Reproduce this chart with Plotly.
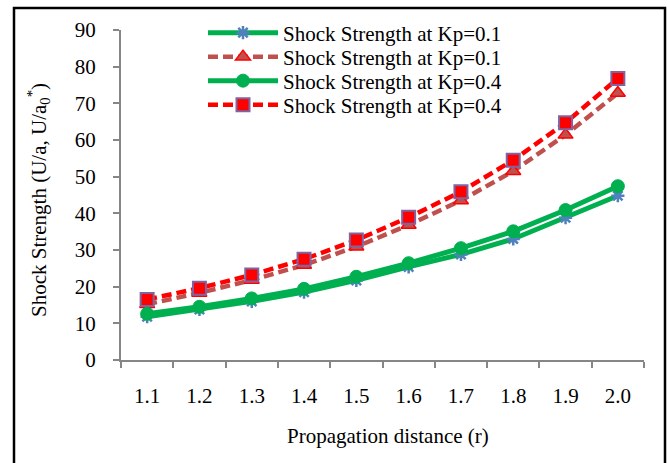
import plotly.graph_objects as go

categories = ["1.1", "1.2", "1.3", "1.4", "1.5", "1.6", "1.7", "1.8", "1.9", "2.0"]
kp01_green = [11.8, 13.8, 16.0, 18.5, 21.7, 25.4, 28.8, 33.0, 38.8, 44.8]
kp01_red = [15.2, 18.3, 21.8, 25.9, 30.9, 36.8, 43.5, 51.5, 61.4, 72.8]
kp04_green = [12.6, 14.5, 16.8, 19.4, 22.7, 26.4, 30.5, 35.1, 40.9, 47.4]
kp04_red = [16.5, 19.6, 23.2, 27.5, 32.7, 38.9, 45.9, 54.5, 64.7, 76.8]
y_ticks = [0, 10, 20, 30, 40, 50, 60, 70, 80, 90]
legend_name_01 = "Shock Strength at Kp=0.1"
legend_name_04 = "Shock Strength at Kp=0.4"

FONT = "Liberation Serif, Times New Roman, serif"
FS = 21

fig = go.Figure()
fig.add_trace(go.Scatter(
    x=categories, y=kp01_green, name=legend_name_01, mode="lines+markers",
    legend="legend",
    line=dict(color="#00B050", width=5),
    marker=dict(symbol="asterisk-open", size=11, color="#4F81BD",
                line=dict(color="#4F81BD", width=2.5)),
))
fig.add_trace(go.Scatter(
    x=categories, y=kp01_red, name=legend_name_01, mode="lines+markers",
    legend="legend2",
    line=dict(color="#C0504D", width=4.5, dash="10px,5px"),
    marker=dict(symbol="triangle-up", size=13, color="#C0504D",
                line=dict(color="#FF0000", width=1.5)),
))
fig.add_trace(go.Scatter(
    x=categories, y=kp04_green, name=legend_name_04, mode="lines+markers",
    legend="legend3",
    line=dict(color="#00B050", width=5),
    marker=dict(symbol="circle", size=13, color="#00B050",
                line=dict(color="#00B050", width=1)),
))
fig.add_trace(go.Scatter(
    x=categories, y=kp04_red, name=legend_name_04, mode="lines+markers",
    legend="legend4",
    line=dict(color="#FF0000", width=4.5, dash="10px,5px"),
    marker=dict(symbol="square", size=13, color="#FF0000",
                line=dict(color="#8064A2", width=2)),
))

L, R, T, B = 121, 25, 30, 103
W, H = 669, 463
pw, ph = W - L - R, H - T - B

def px_x(x):
    return (x - L) / pw

def px_y(y):
    return (H - B - y) / ph

def leg(yc):
    return dict(
        x=px_x(203), y=px_y(yc), xanchor="left", yanchor="middle",
        bgcolor="rgba(0,0,0,0)", font=dict(size=FS, family=FONT),
        itemwidth=70, borderwidth=0,
    )

fig.update_layout(
    width=W, height=H,
    margin=dict(l=L, r=R, t=T, b=B),
    paper_bgcolor="white", plot_bgcolor="white",
    font=dict(family=FONT, size=FS, color="black"),
    showlegend=True,
    legend=leg(33), legend2=leg(57), legend3=leg(81), legend4=leg(105),
    xaxis=dict(
        type="category", range=[-0.5, 9.5],
        showline=True, linecolor="#868686", linewidth=2,
        ticks="outside", tickson="boundaries", ticklen=6, tickcolor="#868686", tickwidth=2,
        showgrid=False, zeroline=False,
        tickfont=dict(size=FS, family=FONT),
        ticklabelstandoff=16,
    ),
    yaxis=dict(
        range=[0, 90], tickvals=y_ticks,
        showline=True, linecolor="#868686", linewidth=2,
        ticks="outside", ticklen=6, tickcolor="#868686", tickwidth=2,
        showgrid=False, zeroline=False,
        tickfont=dict(size=FS, family=FONT),
        ticklabelstandoff=13,
    ),
    annotations=[
        dict(text="Shock Strength (U/a, U/a<sub>0</sub><sup>*</sup>)",
             xref="paper", yref="paper", x=px_x(38), y=px_y(200),
             xanchor="center", yanchor="middle", textangle=-90, showarrow=False,
             font=dict(size=FS, family=FONT)),
        dict(text="Propagation distance (r)",
             xref="paper", yref="paper", x=px_x(388), y=px_y(436),
             xanchor="center", yanchor="middle", showarrow=False,
             font=dict(size=FS, family=FONT)),
    ],
    shapes=[
        dict(type="rect", xref="paper", yref="paper",
             x0=px_x(14), x1=px_x(665), y0=px_y(480), y1=px_y(8),
             line=dict(color="black", width=2.5), fillcolor="rgba(0,0,0,0)", layer="below"),
    ],
)

fig.write_html("out.html", config={"displayModeBar": False},
               post_script="document.body.style.margin='0';")
